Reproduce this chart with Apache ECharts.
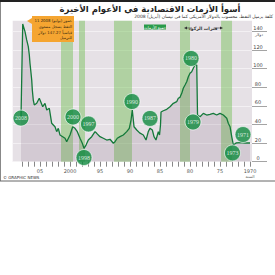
<!DOCTYPE html>
<html>
<head>
<meta charset="utf-8">
<script src="https://cdn.jsdelivr.net/npm/echarts@6/dist/echarts.min.js"></script>
<style>
  html, body { margin: 0; padding: 0; background: #fff; }
  #chart { width: 275px; height: 275px; }
</style>
</head>
<body>
<div id="chart"></div>
<script>
// سعر برميل النفط بالدولار (نيسان 2008)
const years = [1970, 1970.83, 1971.67, 1972.33, 1972.78, 1973.05, 1973.33, 1973.62, 1973.88, 1974.45,
  1975.0, 1975.55, 1976.12, 1976.67, 1977.22, 1977.78, 1978.33, 1978.75, 1978.88, 1979.17,
  1979.45, 1979.72, 1980.0, 1980.28, 1980.55, 1980.83, 1981.12, 1981.38, 1981.67, 1981.95,
  1982.22, 1982.78, 1983.33, 1983.88, 1984.45, 1984.83, 1984.92, 1985.08, 1985.28, 1985.67,
  1986.0, 1986.28, 1986.67, 1986.95, 1987.33, 1987.78, 1988.4, 1988.88, 1989.33, 1989.62,
  1989.83, 1990.12, 1990.55, 1991.12, 1991.67, 1992.12, 1992.5, 1992.78, 1993.33, 1993.88,
  1994.45, 1995.0, 1995.55, 1995.83, 1996.38, 1996.95, 1997.33, 1997.67, 1997.95, 1998.33,
  1998.78, 1999.17, 1999.55, 2000.0, 2000.55, 2000.83, 2001.22, 2001.67, 2001.95, 2002.22,
  2002.5, 2002.78, 2003.05, 2003.45, 2003.88, 2004.17, 2004.55, 2004.88, 2005.12, 2005.55,
  2005.95, 2006.12, 2006.28, 2006.38, 2006.55, 2006.67, 2006.78, 2006.95, 2007.22, 2007.5,
  2007.88, 2008.17];
const prices = [20.1, 20.1, 20.6, 20.1, 18.0, 26.9, 37.6, 41.3, 46.7, 50.2,
  52.0, 50.2, 52.0, 51.0, 50.2, 52.0, 48.4, 50.2, 104.0, 104.0,
  100.4, 96.8, 95.1, 91.4, 86.0, 82.5, 78.9, 73.5, 69.2, 68.2,
  64.5, 62.8, 59.1, 56.3, 54.8, 53.4, 39.5, 28.7, 32.3, 23.3,
  26.9, 34.1, 35.9, 32.3, 23.3, 28.7, 31.0, 34.1, 37.6, 55.6,
  44.8, 35.9, 32.3, 28.7, 26.9, 25.2, 21.5, 19.8, 24.1, 23.3,
  25.2, 26.9, 30.5, 32.3, 26.9, 23.3, 17.9, 14.4, 19.8, 25.2,
  32.3, 35.9, 37.6, 28.7, 21.5, 25.2, 26.9, 28.7, 35.9, 32.3,
  37.6, 39.5, 41.3, 57.4, 55.6, 62.8, 59.1, 64.5, 68.2, 62.8,
  61.0, 66.3, 77.1, 87.8, 98.6, 105.8, 114.7, 123.7, 130.9, 139.8,
  148.1, 46.0];

// فترات الركود
const recessionStart = [1973.0, 1980.0, 1989.67, 1997.5, 1999.5];
const recessionEnd = [1974.83, 1981.67, 1992.67, 1998.5, 2001.5];

// الأزمات
const crisisLabels = ["1971", "1973", "1979", "1980", "1987", "1990", "1998", "1997", "2000", "2008"];
const crisisYears = [1971.17, 1972.92, 1979.5, 1979.83, 1986.67, 1989.67, 1997.67, 1996.92, 1999.5, 2008.17];
const crisisValues = [29.2, 9.4, 42.7, 111, 46.5, 64.7, 4.5, 40.5, 48.1, 46.9];

const yearTicks = [];
for (let y = 1970; y <= 2008; y++) yearTicks.push(y);
const yearLabels = [1970, 1975, 1980, 1985, 1990, 1995, 2000, 2005];
const yearLabelText = { 1970: "1970", 1975: "75", 1980: "80", 1985: "85", 1990: "90", 1995: "95", 2000: "2000", 2005: "05" };
const priceLabels = [0, 20, 40, 60, 80, 100, 120, 140];

const ar = "DejaVu Sans";
const green = "#14793a";

const chart = echarts.init(document.getElementById("chart"), null, { renderer: "svg" });
const lineData = years.map((y, i) => [y, prices[i]]);

chart.setOption({
  animation: false,
  grid: {
    left: 12.7, right: 23, top: 20.7, bottom: 113.3,
    show: true, backgroundColor: "#e6e1e6", borderWidth: 0
  },
  xAxis: {
    type: "value",
    inverse: true,
    min: 1969.67,
    max: 2009.55,
    splitLine: { show: false },
    axisLine: { show: false },
    axisTick: {
      show: true, length: 5, customValues: yearTicks,
      lineStyle: { color: "#555", width: 0.7 }
    },
    axisLabel: {
      customValues: yearLabels,
      margin: 7,
      fontSize: 5,
      color: "#555",
      fontFamily: "DejaVu Sans",
      formatter: v => v === 1970 ? "{a|1970}\n{b|السنة}" : yearLabelText[v],
      rich: {
        a: { fontSize: 5, color: "#555", fontFamily: "DejaVu Sans" },
        b: { fontSize: 4, color: "#666", fontFamily: ar, padding: [1, 0, 0, 0] }
      }
    }
  },
  yAxis: {
    type: "value",
    position: "right",
    min: 0,
    max: 151.6,
    interval: 10,
    axisLine: { show: false },
    splitLine: { show: true, lineStyle: { color: "#f6f4f6", width: 0.8 } },
    axisTick: {
      show: true, length: 15, customValues: priceLabels,
      lineStyle: { color: "#666", width: 0.6 }
    },
    axisLabel: {
      customValues: priceLabels,
      margin: 6,
      align: "center",
      verticalAlign: "bottom",
      padding: [0, 0, 1, 0],
      fontSize: 5,
      color: "#444",
      fontFamily: "DejaVu Sans"
    }
  },
  series: [
    {
      type: "line",
      data: lineData,
      showSymbol: false,
      lineStyle: { width: 0, opacity: 0 },
      areaStyle: { color: "rgba(110,80,110,0.22)" },
      z: 2,
      silent: true,
      markArea: {
        silent: true,
        itemStyle: { color: "rgba(110,190,80,0.45)" },
        data: recessionStart.map((s, i) => [{ xAxis: s, yAxis: 0 }, { xAxis: recessionEnd[i], yAxis: 151.6 }])
      }
    },
    {
      type: "line",
      data: lineData,
      showSymbol: false,
      lineStyle: { color: green, width: 1.3 },
      z: 3,
      silent: true
    },
    {
      type: "scatter",
      data: crisisYears.map((y, i) => [y, crisisValues[i]]),
      symbolSize: 16,
      itemStyle: { color: "#0f8a3f", borderColor: "#fff", borderWidth: 0.8 },
      label: {
        show: true,
        position: "inside",
        formatter: p => crisisLabels[p.dataIndex],
        color: "#fff",
        fontSize: 6,
        fontFamily: "Liberation Serif"
      },
      z: 5,
      silent: true
    }
  ],
  graphic: [
    { type: "rect", shape: { x: 0, y: 0, width: 275, height: 2 }, style: { fill: "#222" }, z: 100 },
    { type: "line", shape: { x1: 0.5, y1: 2, x2: 0.5, y2: 181 }, style: { stroke: "#888", lineWidth: 1 }, z: 100 },
    { type: "line", shape: { x1: 0, y1: 181, x2: 275, y2: 181 }, style: { stroke: "#666", lineWidth: 1 }, z: 100 },
    {
      type: "text", x: 150, y: 8.5, z: 100,
      style: {
        text: "أسوأ الأزمات الاقتصادية في الأعوام الأخيرة",
        font: "bold 8.5px 'DejaVu Sans'", fill: "#222", align: "center", verticalAlign: "middle"
      }
    },
    {
      type: "text", x: 273, y: 16.5, z: 100,
      style: {
        text: "كلفة برميل النفط، محسوب بالدولار الأمريكي كما في نيسان (أبريل) 2008",
        font: "4.5px 'DejaVu Sans'", fill: "#333", align: "right", verticalAlign: "middle"
      }
    },
    {
      type: "text", x: 3, y: 177, z: 100,
      style: { text: "© GRAPHIC NEWS", font: "4px 'DejaVu Sans'", fill: "#333", align: "left", verticalAlign: "middle" }
    },
    {
      type: "text", x: 259, y: 34.5, z: 100,
      style: { text: "دولار", font: "4px 'DejaVu Sans'", fill: "#444", align: "center", verticalAlign: "middle" }
    },
    // صندوق التعليق
    { type: "polygon", shape: { points: [[32, 18], [27, 21], [32, 24]] }, style: { fill: "#f5a531" }, z: 100 },
    { type: "rect", shape: { x: 32, y: 16, width: 42, height: 26 }, style: { fill: "#f5a531" }, z: 100 },
    {
      type: "text", x: 72, y: 17.5, z: 101,
      style: {
        text: "11 تموز (يوليو) 2008،\nالنفط يسجل مستوى\nقياسياً 147.27 دولار\nللبرميل",
        font: "3.9px 'DejaVu Sans'", lineHeight: 5.8, fill: "#3a2a10", align: "right", verticalAlign: "top"
      }
    },
    // مفتاح
    { type: "rect", shape: { x: 144, y: 24.5, width: 22, height: 5 }, style: { fill: "#2a9a4a" }, z: 100 },
    {
      type: "text", x: 155, y: 27, z: 101,
      style: { text: "جميع الأزمات", font: "4px 'DejaVu Sans'", fill: "#fff", align: "center", verticalAlign: "middle" }
    },
    {
      type: "text", x: 203, y: 28, z: 100,
      style: { text: "فترات الركود", font: "bold 4.5px 'DejaVu Sans'", fill: "#333", align: "center", verticalAlign: "middle" }
    },
    { type: "line", shape: { x1: 186, y1: 28, x2: 192, y2: 28 }, style: { stroke: "#333", lineWidth: 0.6 }, z: 100 },
    { type: "polygon", shape: { points: [[184, 28], [187, 26.5], [187, 29.5]] }, style: { fill: "#333" }, z: 100 },
    { type: "line", shape: { x1: 214, y1: 28, x2: 221, y2: 28 }, style: { stroke: "#333", lineWidth: 0.6 }, z: 100 },
    { type: "polygon", shape: { points: [[223, 28], [220, 26.5], [220, 29.5]] }, style: { fill: "#333" }, z: 100 }
  ]
});
</script>
</body>
</html>
